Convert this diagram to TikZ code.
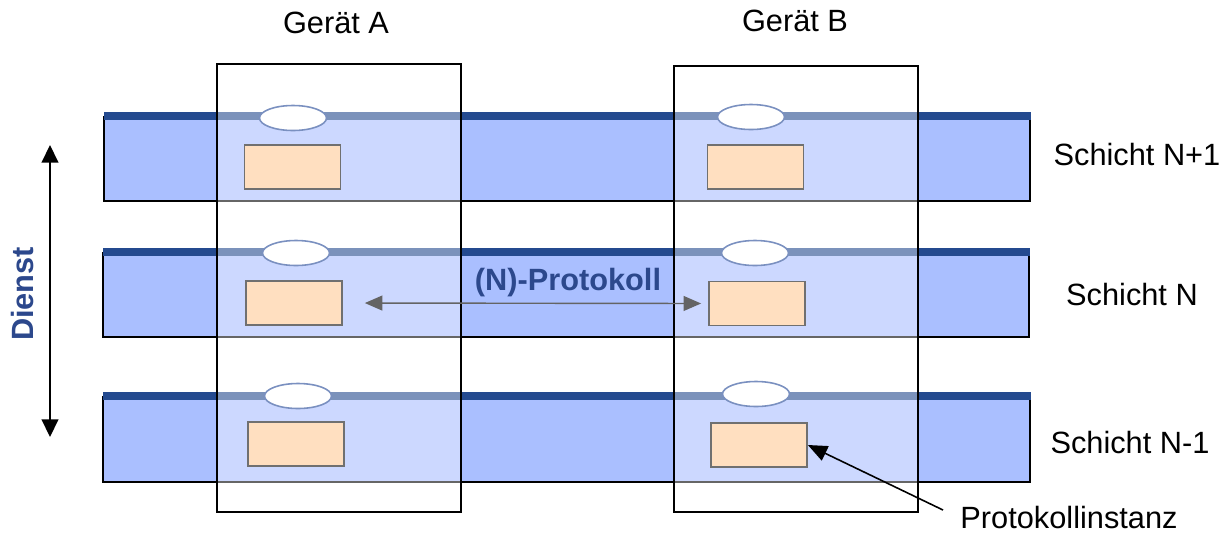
\documentclass[tikz,border=0pt]{standalone}
\usepackage{fontspec}
\setmainfont{Liberation Sans}
\usetikzlibrary{arrows.meta,shapes.geometric}
\definecolor{bandblue}{RGB}{170,191,255}
\definecolor{topblue}{RGB}{36,74,143}
\definecolor{sapedge}{RGB}{122,144,192}
\definecolor{instfill}{RGB}{255,223,192}
\definecolor{instedge}{RGB}{112,112,112}
\definecolor{textblue}{RGB}{44,72,140}
\definecolor{arrowgray}{RGB}{100,100,100}
\tikzset{
  bandedge/.style={draw=black, line width=0.9pt},
  bandtop/.style={draw=topblue, line width=4pt},
  geraet/.style={draw=black, line width=1.1pt, fill=white, fill opacity=0.4, minimum width=4.88cm, inner sep=0},
  sap/.style={ellipse, draw=sapedge, line width=0.9pt, fill=white, minimum width=1.34cm, minimum height=0.5cm, inner sep=0},
  instanz/.style={draw=instedge, line width=1pt, fill=instfill, minimum width=1.92cm, minimum height=0.88cm, inner sep=0},
  lbl/.style={font=\fontsize{17.5}{21}\selectfont, anchor=base, inner sep=0},
  lblbold/.style={lbl, font=\fontsize{17.5}{21}\selectfont\bfseries, text=textblue},
}
\begin{document}
\begin{tikzpicture}[x=0.02cm, y=-0.02cm]
      \useasboundingbox (0,0) rectangle (1232,542);
      %%%%%%%%%%%%%%%%%%%%%%%%%%%%%%%%%%%%%%%%%%%%%%%
      \fill[bandblue] (104,116) rectangle (1030,201);
      \draw[bandedge] (104,116) -- (104,201) -- (1030,201) -- (1030,116);
      \draw[bandtop] (104,116) -- (1031,116);
      \fill[bandblue] (103,252) rectangle (1029,337);
      \draw[bandedge] (103,252) -- (103,337) -- (1029,337) -- (1029,252);
      \draw[bandtop] (103,252) -- (1030,252);
      \fill[bandblue] (103,396) rectangle (1030,482);
      \draw[bandedge] (103,396) -- (103,482) -- (1030,482) -- (1030,396);
      \draw[bandtop] (103,396) -- (1031,396);
      %%%%%%%%%%%%%%%%%%%%%%%%%%%%%%%%%%%%%%%%%%%%%%%
      \node[geraet, minimum height=8.96cm] at (339,288) (gerA) {};
      \node[geraet, minimum height=8.92cm] at (796,289) (gerB) {};
      \node[lbl] at (336,33) (lblA) {Gerät A};
      \node[lbl] at (795,31) (lblB) {Gerät B};
      %%%%%%%%%%%%%%%%%%%%%%%%%%%%%%%%%%%%%%%%%%%%%%%
      \node[sap] at (293,118) (sapA1) {};
      \node[sap] at (751,117) (sapB1) {};
      \node[sap] at (296,253) (sapA2) {};
      \node[sap] at (755,253) (sapB2) {};
      \node[sap] at (298,396) (sapA3) {};
      \node[sap] at (756,394) (sapB3) {};
      \node[instanz] at (292.5,167) (instA1) {};
      \node[instanz] at (755.5,167) (instB1) {};
      \node[instanz] at (294,303) (instA2) {};
      \node[instanz] at (757,303.5) (instB2) {};
      \node[instanz] at (296,444) (instA3) {};
      \node[instanz] at (759,445) (instB3) {};
      %%%%%%%%%%%%%%%%%%%%%%%%%%%%%%%%%%%%%%%%%%%%%%%
      \node[lbl] at (1137,165) (schicht1) {Schicht N+1};
      \node[lbl] at (1132,305) (schicht2) {Schicht N};
      \node[lbl] at (1130,453) (schicht3) {Schicht N-1};
      \node[lbl] at (1069,528) (pinst) {Protokollinstanz};
      \coordinate (ptail) at (943,510);
      \draw[line width=0.9pt, -{Triangle[length=11pt,width=9pt]}] (ptail) -- (instB3.east);
      %%%%%%%%%%%%%%%%%%%%%%%%%%%%%%%%%%%%%%%%%%%%%%%
      \node[lblbold] at (568,290) (nprot) {(N)-Protokoll};
      \draw[arrowgray, line width=0.8pt, {Triangle[length=10pt,width=8.5pt]}-{Triangle[length=10pt,width=8.5pt]}, shorten <=12.5pt, shorten >=4pt] (instA2.east) -- (instB2.west);
      %%%%%%%%%%%%%%%%%%%%%%%%%%%%%%%%%%%%%%%%%%%%%%%
      \coordinate (dtop) at (50,145);
      \coordinate (dbot) at (50,437);
      \draw[line width=0.9pt, {Triangle[length=10pt,width=9.5pt]}-{Triangle[length=10pt,width=9.5pt]}] (dtop) -- (dbot);
      \node[lblbold, rotate=90] at (33,294) (dienst) {Dienst};
      %%%%%%%%%%%%%%%%%%%%%%%%%%%%%%%%%%%%%%%%%%%%%%%
\end{tikzpicture}
\end{document}
